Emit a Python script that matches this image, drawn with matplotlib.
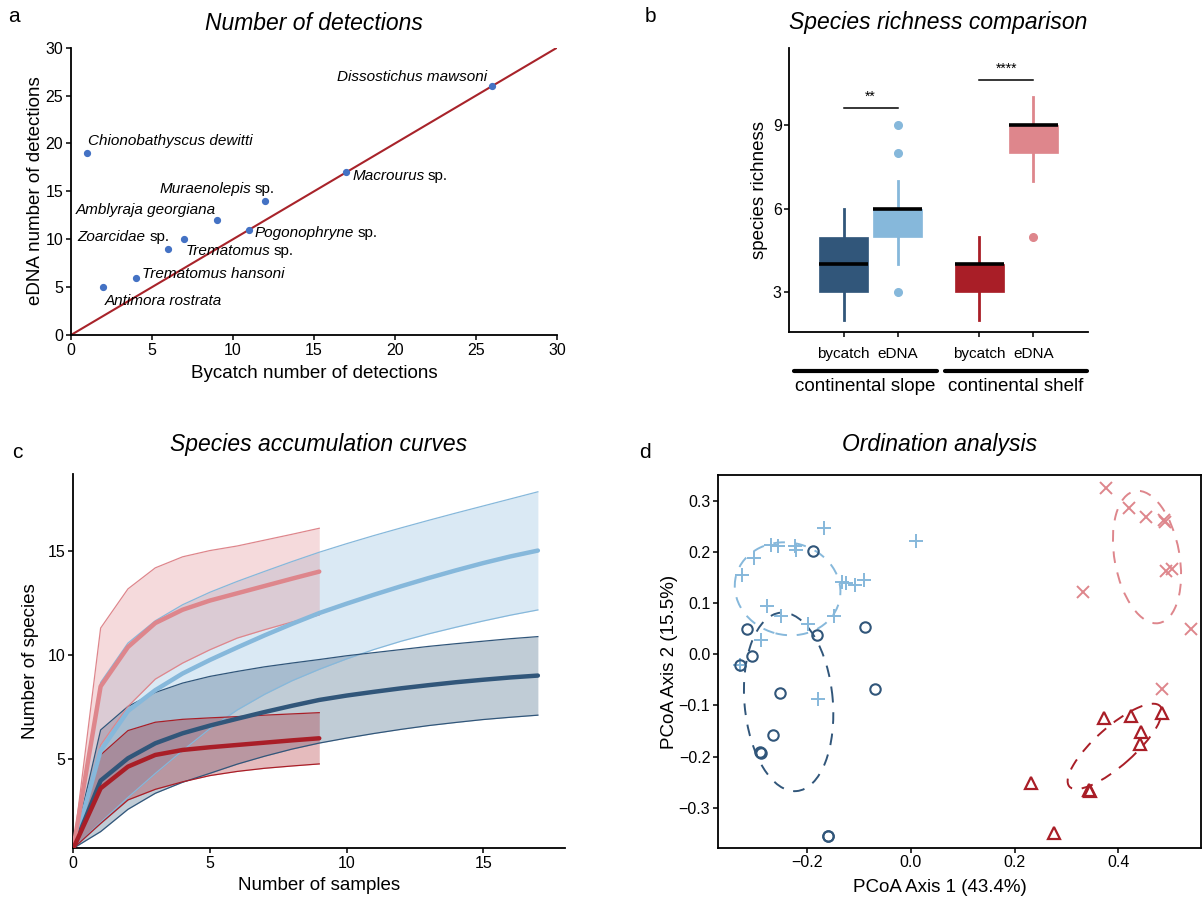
import matplotlib
matplotlib.use("Agg")
import matplotlib.pyplot as plt
from matplotlib.patches import Ellipse
import numpy as np

plt.rcParams['font.family'] = ['Liberation Sans', 'DejaVu Sans']
plt.rcParams['axes.unicode_minus'] = True

# ---------------- data: panel a ----------------
species = ["Chionobathyscus dewitti", "Dissostichus mawsoni", "Macrourus", "Muraenolepis",
           "Amblyraja georgiana", "Pogonophryne", "Zoarcidae", "Trematomus",
           "Trematomus hansoni", "Antimora rostrata"]
species_sp = [False, False, True, True, False, True, True, True, False, False]
bycatch_det = [1, 26, 17, 12, 9, 11, 6, 7, 4, 2]
edna_det = [19, 26, 17, 14, 12, 11, 9, 10, 6, 5]

# ---------------- data: panel b ----------------
habitats = ["continental slope", "continental shelf"]
methods = ["bycatch", "eDNA"]
box_q1 = [3, 5, 3, 8]
box_med = [4, 6, 4, 9]
box_q3 = [5, 6, 4, 9]
whisk_lo = [2, 4, 2, 7]
whisk_hi = [6, 7, 5, 10]
outliers = [[], [3, 8, 9], [], [5]]
signif = ["**", "****"]

# ---------------- data: panel c ----------------
n_slope = list(range(0, 18))
n_shelf = list(range(0, 10))
edna_slope_mean = [0.71, 5.4, 7.3, 8.3, 9.1, 9.75, 10.35, 10.93, 11.48, 12.0, 12.45, 12.88, 13.29, 13.68, 14.05, 14.4, 14.72, 15.0]
edna_slope_hi = [0.71, 8.67, 10.56, 11.63, 12.4, 13.0, 13.52, 14.0, 14.47, 14.92, 15.33, 15.72, 16.09, 16.45, 16.8, 17.14, 17.48, 17.82]
edna_slope_lo = [0.71, 1.95, 3.15, 4.3, 5.4, 6.45, 7.35, 8.1, 8.75, 9.3, 9.8, 10.25, 10.65, 11.0, 11.32, 11.62, 11.9, 12.15]
byc_slope_mean = [0.71, 3.96, 5.03, 5.75, 6.23, 6.6, 6.93, 7.25, 7.55, 7.83, 8.04, 8.22, 8.39, 8.54, 8.68, 8.8, 8.91, 9.0]
byc_slope_hi = [0.71, 6.39, 7.52, 8.19, 8.64, 8.96, 9.2, 9.42, 9.6, 9.77, 9.95, 10.1, 10.25, 10.4, 10.53, 10.65, 10.77, 10.87]
byc_slope_lo = [0.71, 1.51, 2.58, 3.35, 3.88, 4.31, 4.75, 5.13, 5.47, 5.76, 6.0, 6.22, 6.42, 6.6, 6.75, 6.89, 7.0, 7.1]
edna_shelf_mean = [0.71, 8.48, 10.37, 11.52, 12.16, 12.6, 12.95, 13.3, 13.65, 13.99]
edna_shelf_hi = [0.71, 11.28, 13.16, 14.17, 14.7, 15.0, 15.22, 15.5, 15.78, 16.07]
edna_shelf_lo = [0.71, 5.67, 7.52, 8.83, 9.6, 10.24, 10.8, 11.2, 11.57, 11.91]
byc_shelf_mean = [0.71, 3.59, 4.63, 5.19, 5.43, 5.56, 5.67, 5.78, 5.89, 5.99]
byc_shelf_hi = [0.71, 5.19, 6.36, 6.76, 6.9, 6.97, 7.03, 7.1, 7.16, 7.22]
byc_shelf_lo = [0.71, 1.9, 3.03, 3.54, 3.9, 4.2, 4.4, 4.55, 4.66, 4.76]

# ---------------- data: panel d ----------------
edna_slope_x = [-0.325, -0.301, -0.268, -0.256, -0.220, -0.223, -0.166, 0.011, -0.133, -0.124, -0.108, -0.090,
                -0.277, -0.249, -0.198, -0.148, -0.289, -0.328, -0.178]
edna_slope_y = [0.155, 0.188, 0.214, 0.212, 0.204, 0.212, 0.247, 0.222, 0.142, 0.140, 0.136, 0.145,
                0.095, 0.074, 0.059, 0.075, 0.027, -0.021, -0.088]
byc_slope_x = [-0.188, -0.315, -0.306, -0.328, -0.251, -0.265, -0.291, -0.289, -0.180, -0.088, -0.069, -0.159, -0.160]
byc_slope_y = [0.201, 0.050, -0.003, -0.021, -0.076, -0.158, -0.190, -0.192, 0.038, 0.054, -0.067, -0.355, -0.356]
edna_shelf_x = [0.376, 0.421, 0.454, 0.489, 0.487, 0.492, 0.503, 0.332, 0.539, 0.483]
edna_shelf_y = [0.325, 0.286, 0.269, 0.258, 0.262, 0.162, 0.166, 0.121, 0.049, -0.068]
byc_shelf_x = [0.373, 0.425, 0.484, 0.444, 0.441, 0.232, 0.344, 0.346, 0.276]
byc_shelf_y = [-0.125, -0.121, -0.115, -0.151, -0.175, -0.251, -0.265, -0.267, -0.349]
# ellipses: centre x, centre y, major, minor, angle(deg)
ell_edna_slope = [-0.237, 0.128, 0.205, 0.180, -15]
ell_byc_slope = [-0.235, -0.093, 0.350, 0.170, 95]
ell_edna_shelf = [0.455, 0.190, 0.262, 0.125, 100]
ell_byc_shelf = [0.393, -0.180, 0.235, 0.075, 42]

# ---------------- style ----------------
C_DB = "#31567A"
C_LB = "#86B8DB"
C_DR = "#A91E27"
C_PK = "#DE868C"
TICK_FS = 11.5
LAB_FS = 13.5
TITLE_FS = 16.5

W, H = 1204, 900
fig = plt.figure(figsize=(W / 100, H / 100), dpi=100)


def axes_px(l, t, r, b):
    return fig.add_axes([l / W, 1 - b / H, (r - l) / W, (b - t) / H])


def ftext(x, y, s, **kw):
    return fig.text(x / W, 1 - y / H, s, **kw)


def style_axes(ax, full=False):
    for sp in ['top', 'right']:
        ax.spines[sp].set_visible(full)
    for sp in ax.spines.values():
        sp.set_linewidth(1.3)
    ax.tick_params(direction='out', length=3.5, width=1.1, labelsize=TICK_FS, pad=2,
                   colors='black')


# ================= panel a =================
axA = axes_px(71, 47.7, 557, 335)
style_axes(axA)
axA.plot([0, 30], [0, 30], color="#A8232A", lw=1.5, zorder=1)
axA.plot(bycatch_det, edna_det, 'o', color="#4472C4", ms=4.2, zorder=3)
axA.set_xlim(0, 30)
axA.set_ylim(0, 30)
axA.set_xticks(range(0, 31, 5))
axA.set_yticks(range(0, 31, 5))
label_pos = [(1.03, 20.25, 'left'), (25.7, 26.95, 'right'), (17.36, 16.6, 'left'),
             (5.46, 15.28, 'left'), (0.28, 13.1, 'left'), (11.35, 10.6, 'left'),
             (0.41, 10.2, 'left'), (7.06, 8.8, 'left'), (4.4, 6.37, 'left'),
             (2.06, 3.55, 'left')]
for name, is_sp, (lx, ly, ha) in zip(species, species_sp, label_pos):
    t = axA.text(lx, ly, name, style='italic', fontsize=11, ha=ha, va='center')
    if is_sp:
        axA.annotate("sp.", xy=(1, 0), xycoords=t, xytext=(2.5, 0),
                     textcoords='offset points', ha='left', va='bottom', fontsize=11)
ftext(314, 23, "Number of detections", style='italic', fontsize=TITLE_FS, ha='center', va='center')
ftext(314, 373, "Bycatch number of detections", fontsize=LAB_FS, ha='center', va='center')
ftext(36, 191, "eDNA number of detections", fontsize=LAB_FS, ha='center', va='center', rotation=90)
ftext(14, 17, "a", fontsize=15, ha='center', va='center')

# ================= panel b =================
axB = axes_px(789.3, 47.7, 1087.7, 332.3)
style_axes(axB)
positions = [0.8, 1.2, 1.8, 2.2]
box_colors = [C_DB, C_LB, C_DR, C_PK]
stats = []
for i in range(4):
    stats.append(dict(med=box_med[i], q1=box_q1[i], q3=box_q3[i],
                      whislo=whisk_lo[i], whishi=whisk_hi[i], fliers=outliers[i]))
bp = axB.bxp(stats, positions=positions, widths=0.36, patch_artist=True, showcaps=False,
             manage_ticks=False)
for i, col in enumerate(box_colors):
    bp['boxes'][i].set_facecolor(col)
    bp['boxes'][i].set_edgecolor(col)
    bp['boxes'][i].set_linewidth(0.5)
    for w in bp['whiskers'][2 * i:2 * i + 2]:
        w.set_color(col)
        w.set_linewidth(2.0)
    bp['medians'][i].set_color('black')
    bp['medians'][i].set_linewidth(2.6)
    bp['medians'][i].set_solid_capstyle('butt')
    fl = bp['fliers'][i]
    fl.set_marker('o')
    fl.set_markerfacecolor(col)
    fl.set_markeredgecolor(col)
    fl.set_markersize(5.5)
axB.set_xlim(0.4, 2.6)
axB.set_ylim(1.566, 11.77)
axB.set_yticks([3, 6, 9])
axB.set_xticks(positions)
axB.set_xticklabels(methods * 2, fontsize=11)
axB.tick_params(axis='x', pad=7)
# significance
sig_y = [9.62, 10.61]
for k, (s, yy) in enumerate(zip(signif, sig_y)):
    x0, x1 = positions[2 * k], positions[2 * k + 1]
    axB.plot([x0, x1], [yy, yy], color='black', lw=1.1)
    axB.text((x0 + x1) / 2, yy + 0.15, s, ha='center', va='bottom', fontsize=10)
# nested habitat labels
trans = axB.get_xaxis_transform()
grp_span = [(0.435, 1.489), (1.548, 2.595)]
for (g0, g1), hab in zip(grp_span, habitats):
    axB.plot([g0, g1], [-0.137, -0.137], color='black', lw=3, transform=trans,
             clip_on=False, solid_capstyle='round')
    axB.text((g0 + g1) / 2, -0.19, hab, transform=trans, ha='center', va='center',
             fontsize=LAB_FS)
ftext(938.5, 23, "Species richness comparison", style='italic', fontsize=TITLE_FS, ha='center', va='center')
ftext(760, 190, "species richness", fontsize=LAB_FS, ha='center', va='center', rotation=90)
ftext(650, 17, "b", fontsize=15, ha='center', va='center')

# ================= panel c =================
axC = axes_px(73.3, 474.3, 565.2, 848.3)
style_axes(axC)
series = [
    (n_slope, edna_slope_mean, edna_slope_lo, edna_slope_hi, C_LB),
    (n_slope, byc_slope_mean, byc_slope_lo, byc_slope_hi, C_DB),
    (n_shelf, edna_shelf_mean, edna_shelf_lo, edna_shelf_hi, C_PK),
    (n_shelf, byc_shelf_mean, byc_shelf_lo, byc_shelf_hi, C_DR),
]
for xs, m, lo, hi, col in series:
    axC.fill_between(xs, lo, hi, color=col, alpha=0.3, lw=0, zorder=1)
    axC.plot(xs, lo, color=col, lw=0.9, zorder=2)
    axC.plot(xs, hi, color=col, lw=0.9, zorder=2)
for xs, m, lo, hi, col in series:
    axC.plot(xs, m, color=col, lw=3.2, zorder=3, solid_capstyle='round')
axC.set_xlim(0, 18)
axC.set_ylim(0.71, 18.66)
axC.set_xticks([0, 5, 10, 15])
axC.set_yticks([5, 10, 15])
ftext(319, 444, "Species accumulation curves", style='italic', fontsize=TITLE_FS, ha='center', va='center')
ftext(319, 885, "Number of samples", fontsize=LAB_FS, ha='center', va='center')
ftext(31, 661, "Number of species", fontsize=LAB_FS, ha='center', va='center', rotation=90)
ftext(17, 453, "c", fontsize=15, ha='center', va='center')

# ================= panel d =================
axD = axes_px(718, 474.7, 1200.5, 847.7)
style_axes(axD, full=True)
axD.plot(edna_slope_x, edna_slope_y, '+', color=C_LB, ms=10, mew=1.4, ls='none')
axD.plot(byc_slope_x, byc_slope_y, 'o', mfc='none', mec=C_DB, ms=7.5, mew=1.5, ls='none')
axD.plot(edna_shelf_x, edna_shelf_y, 'x', color=C_PK, ms=8, mew=1.4, ls='none')
axD.plot(byc_shelf_x, byc_shelf_y, '^', mfc='none', mec=C_DR, ms=9, mew=1.6, ls='none')
for e, col in [(ell_edna_slope, C_LB), (ell_byc_slope, C_DB), (ell_edna_shelf, C_PK), (ell_byc_shelf, C_DR)]:
    axD.add_patch(Ellipse((e[0], e[1]), e[2], e[3], angle=e[4], fill=False, edgecolor=col,
                          lw=1.4, ls=(0, (6, 5))))
axD.set_xlim(-0.371, 0.558)
axD.set_ylim(-0.378, 0.351)
axD.set_xticks([-0.2, 0.0, 0.2, 0.4])
axD.set_yticks([-0.3, -0.2, -0.1, 0.0, 0.1, 0.2, 0.3])
ftext(940, 444, "Ordination analysis", style='italic', fontsize=TITLE_FS, ha='center', va='center')
ftext(940, 887, "PCoA Axis 1 (43.4%)", fontsize=LAB_FS, ha='center', va='center')
ftext(670, 662, "PCoA Axis 2 (15.5%)", fontsize=LAB_FS, ha='center', va='center', rotation=90)
ftext(645, 453, "d", fontsize=15, ha='center', va='center')

fig.savefig("out.png", dpi=100)
